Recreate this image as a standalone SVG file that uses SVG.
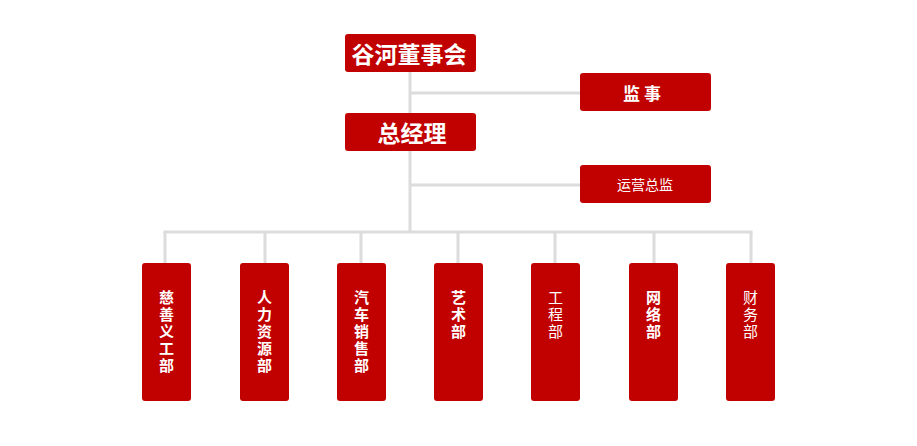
<svg xmlns="http://www.w3.org/2000/svg" width="917" height="446" viewBox="0 0 917 446">
<style>
.box{fill:#c10000;}
.ln{stroke:#dcdcdc;stroke-width:3;fill:none;}
.t{fill:#fff;font-family:"Noto Sans CJK SC","Noto Sans",sans-serif;text-anchor:middle;dominant-baseline:central;}
.big{font-size:23px;font-weight:bold;}
.mid{font-size:17px;font-weight:bold;}
.sm{font-size:14px;}
.v{font-size:15px;}
.b{font-weight:bold;}
</style>
<rect width="917" height="446" fill="#fff"/>
<g id="connectors">
<path class="ln" d="M410 71V232M410 93H580M410 185H580M163.5 232H752.5"/>
<path class="ln" d="M165 232V263M265 232V263M361 232V263M458 232V263M555 232V263M654 232V263M751 232V263"/>
</g>
<g id="board"><rect class="box" x="345" y="34" width="131" height="38" rx="3"/><text class="t big" x="409" y="53">谷河董事会</text></g>
<g id="supervisor"><rect class="box" x="580" y="73" width="131" height="38" rx="3"/><text class="t mid" x="642" y="92.5" xml:space="preserve">监 事</text></g>
<g id="gm"><rect class="box" x="345" y="113" width="131" height="38" rx="3"/><text class="t big" x="412" y="132">总经理</text></g>
<g id="ops"><rect class="box" x="580" y="165" width="131" height="38" rx="3"/><text class="t sm" x="645" y="184">运营总监</text></g>
<g id="charity"><rect class="box" x="142" y="263" width="49" height="138" rx="3"/><text class="t v b"><tspan x="166.5" y="296">慈</tspan><tspan x="166.5" y="313">善</tspan><tspan x="166.5" y="330">义</tspan><tspan x="166.5" y="347">工</tspan><tspan x="166.5" y="364">部</tspan></text></g>
<g id="hr"><rect class="box" x="240" y="263" width="49" height="138" rx="3"/><text class="t v b"><tspan x="264.5" y="296">人</tspan><tspan x="264.5" y="313">力</tspan><tspan x="264.5" y="330">资</tspan><tspan x="264.5" y="347">源</tspan><tspan x="264.5" y="364">部</tspan></text></g>
<g id="sales"><rect class="box" x="337" y="263" width="49" height="138" rx="3"/><text class="t v b"><tspan x="361.5" y="296">汽</tspan><tspan x="361.5" y="313">车</tspan><tspan x="361.5" y="330">销</tspan><tspan x="361.5" y="347">售</tspan><tspan x="361.5" y="364">部</tspan></text></g>
<g id="art"><rect class="box" x="434" y="263" width="49" height="138" rx="3"/><text class="t v b"><tspan x="458.5" y="296">艺</tspan><tspan x="458.5" y="313">术</tspan><tspan x="458.5" y="330">部</tspan></text></g>
<g id="eng"><rect class="box" x="531" y="263" width="49" height="138" rx="3"/><text class="t v"><tspan x="555.5" y="296">工</tspan><tspan x="555.5" y="313">程</tspan><tspan x="555.5" y="330">部</tspan></text></g>
<g id="net"><rect class="box" x="629" y="263" width="49" height="138" rx="3"/><text class="t v b"><tspan x="653.5" y="296">网</tspan><tspan x="653.5" y="313">络</tspan><tspan x="653.5" y="330">部</tspan></text></g>
<g id="fin"><rect class="box" x="726" y="263" width="49" height="138" rx="3"/><text class="t v"><tspan x="750.5" y="296">财</tspan><tspan x="750.5" y="313">务</tspan><tspan x="750.5" y="330">部</tspan></text></g>
</svg>
